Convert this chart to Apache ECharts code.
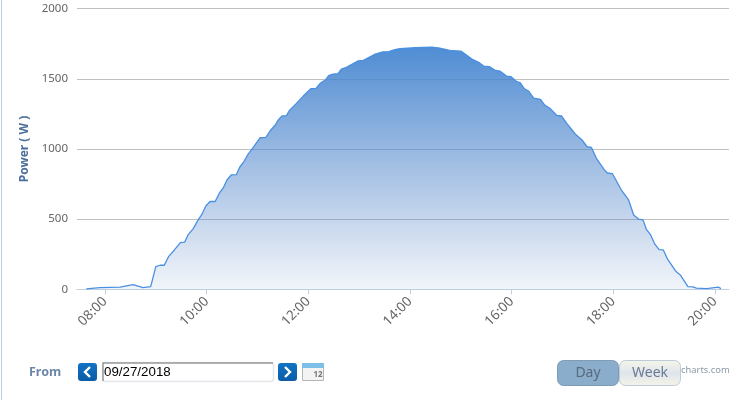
<!DOCTYPE html>
<html>
<head>
<meta charset="utf-8">
<style>
html, body { margin: 0; padding: 0; background: #fff; }
#chart { width: 734px; height: 400px; }
</style>
<script src="https://cdn.jsdelivr.net/npm/echarts@6/dist/echarts.min.js"></script>
</head>
<body>
<div id="chart"></div>
<script>
// minutes since midnight
var minutes = [458, 474, 498, 513, 525, 534, 540, 545, 550, 555, 562, 569, 574, 578, 584, 590, 594, 599, 604, 610,
    615, 620, 624, 629, 635, 639, 644, 649, 655, 663, 670, 675, 681, 685, 689, 694, 698, 706, 714, 723,
    729, 734, 740, 744, 749, 755, 759, 765, 779, 785, 799, 808, 814, 822, 828, 846, 848, 866, 875, 887,
    900, 905, 913, 921, 927, 934, 940, 946, 954, 959, 966, 970, 975, 980, 986, 994, 999, 1005, 1013, 1019,
    1025, 1035, 1043, 1049, 1054, 1060, 1069, 1073, 1079, 1090, 1098, 1104, 1110, 1115, 1119, 1124, 1129, 1134, 1139, 1144,
    1154, 1159, 1168, 1174, 1178, 1190, 1204, 1207];
var power = [4, 13, 16, 34, 13, 20, 162, 172, 172, 233, 281, 333, 336, 388, 431, 495, 530, 594, 626, 626,
    685, 727, 779, 815, 817, 870, 910, 964, 1012, 1080, 1083, 1130, 1171, 1211, 1235, 1237, 1277, 1325, 1377, 1429,
    1432, 1468, 1491, 1522, 1534, 1536, 1569, 1581, 1628, 1631, 1676, 1692, 1692, 1707, 1714, 1721, 1726, 1726, 1719, 1702,
    1697, 1676, 1640, 1617, 1591, 1586, 1562, 1555, 1519, 1516, 1479, 1472, 1429, 1413, 1363, 1354, 1313, 1290, 1240, 1235,
    1183, 1107, 1064, 1016, 1012, 934, 855, 829, 824, 703, 637, 530, 500, 495, 428, 388, 322, 283, 281, 215,
    127, 103, 20, 18, 9, 6, 16, 6];
var tickMinutes = [480, 600, 720, 840, 960, 1080, 1200];
var yTicks = [0, 500, 1000, 1500, 2000];

var points = [];
for (var i = 0; i < minutes.length; i++) {
    points.push([minutes[i], power[i]]);
}

function pad(n) {
    return n < 10 ? '0' + n : '' + n;
}

var chart = echarts.init(document.getElementById('chart'), null, {renderer: 'canvas'});
var uiFont = '"Noto Sans", sans-serif';

chart.setOption({
    animation: false,
    backgroundColor: '#fff',
    grid: {left: 77, right: 5, top: 8.6, bottom: 110.6},
    xAxis: {
        type: 'value',
        min: 447,
        max: 1216.5,
        splitLine: {show: false},
        axisLine: {lineStyle: {color: '#c0d0e0', width: 1}},
        axisTick: {show: true, length: 5, customValues: tickMinutes, lineStyle: {color: '#c0d0e0'}},
        axisLabel: {
            customValues: tickMinutes,
            rotate: 45,
            margin: 10,
            color: '#666',
            fontFamily: uiFont,
            fontSize: 13.5,
            formatter: function (v) {
                return pad(Math.floor(v / 60)) + ':' + pad(v % 60);
            }
        }
    },
    yAxis: {
        type: 'value',
        min: yTicks[0],
        max: yTicks[yTicks.length - 1],
        interval: 500,
        name: 'Power ( W )',
        nameLocation: 'middle',
        nameGap: 41,
        nameTextStyle: {color: '#4d6f9c', fontFamily: uiFont, fontWeight: 'bold', fontSize: 12},
        axisLine: {show: false},
        axisTick: {show: false},
        axisLabel: {
            color: '#666',
            margin: 9,
            fontFamily: uiFont,
            fontSize: 11.5,
            formatter: function (v) {
                return '' + v;
            }
        },
        splitLine: {lineStyle: {color: '#c0c0c0', width: 1}}
    },
    series: [{
        type: 'line',
        data: points,
        showSymbol: false,
        smooth: false,
        lineStyle: {color: '#4a90e2', width: 1.3},
        areaStyle: {
            opacity: 1,
            color: new echarts.graphic.LinearGradient(0, 0, 0, 1, [
                {offset: 0, color: 'rgba(70,135,210,0.95)'},
                {offset: 1, color: 'rgba(85,130,195,0.08)'}
            ])
        }
    }],
    graphic: [
        // left page border
        {type: 'rect', shape: {x: 1, y: 0, width: 1, height: 400}, style: {fill: '#bccfe6'}, silent: true},
        {type: 'text', x: 29, y: 372, style: {text: 'From', fill: '#6b86a8', font: 'bold 12.5px ' + uiFont, textVerticalAlign: 'middle'}},
        // date buttons
        {type: 'rect', shape: {x: 78, y: 363, width: 19, height: 18, r: 3}, style: {fill: new echarts.graphic.LinearGradient(0, 0, 0, 1, [{offset: 0, color: '#1273c4'}, {offset: 1, color: '#0a5ca8'}])}},
        {type: 'polyline', shape: {points: [[90, 367], [85, 372], [90, 377]]}, style: {stroke: '#fff', lineWidth: 2.4, fill: null}},
        {type: 'rect', shape: {x: 102.5, y: 362.5, width: 171, height: 19, r: 3}, style: {fill: '#fff', stroke: '#e4e6ea', lineWidth: 1.5}},
        {type: 'polyline', shape: {points: [[103, 381], [103, 363], [273, 363]]}, style: {stroke: '#999', lineWidth: 1.5, fill: null}},
        {type: 'text', x: 104, y: 372, style: {text: '09/27/2018', fill: '#000', font: '13.33px "Liberation Sans", Arial, sans-serif', textVerticalAlign: 'middle'}},
        {type: 'rect', shape: {x: 278, y: 363, width: 19, height: 18, r: 3}, style: {fill: new echarts.graphic.LinearGradient(0, 0, 0, 1, [{offset: 0, color: '#1273c4'}, {offset: 1, color: '#0a5ca8'}])}},
        {type: 'polyline', shape: {points: [[285, 367], [290, 372], [285, 377]]}, style: {stroke: '#fff', lineWidth: 2.4, fill: null}},
        // calendar icon
        {type: 'rect', shape: {x: 302.5, y: 363.5, width: 21, height: 17}, style: {fill: '#f3f3f3', stroke: '#b5b5b5', lineWidth: 1}},
        {type: 'rect', shape: {x: 302, y: 363, width: 22, height: 5}, style: {fill: '#7cc0ea'}},
        {type: 'text', x: 318, y: 375, style: {text: '12', fill: '#777', font: 'bold 8px ' + uiFont, textAlign: 'center', textVerticalAlign: 'middle'}},
        // range buttons
        {type: 'text', x: 681, y: 370, style: {text: 'charts.com', fill: '#8c9aa6', font: '9.4px ' + uiFont, textVerticalAlign: 'middle'}},
        {type: 'rect', shape: {x: 557.5, y: 360.5, width: 61, height: 25, r: 6}, style: {fill: '#8aadcb', stroke: '#7f9bb5', lineWidth: 1}},
        {type: 'text', x: 588, y: 373, style: {text: 'Day', fill: '#5a6a7d', font: '14px ' + uiFont, textAlign: 'center', textVerticalAlign: 'middle'}},
        {type: 'rect', shape: {x: 619.5, y: 360.5, width: 61, height: 25, r: 6}, style: {fill: new echarts.graphic.LinearGradient(0, 0, 0, 1, [{offset: 0, color: '#f6f6e8'}, {offset: 0.5, color: '#dfe5ec'}, {offset: 1, color: '#f4f4e6'}]), stroke: '#bccbdc', lineWidth: 1}},
        {type: 'text', x: 650, y: 373, style: {text: 'Week', fill: '#6a7a95', font: '14px ' + uiFont, textAlign: 'center', textVerticalAlign: 'middle'}}
    ]
});
</script>
</body>
</html>
